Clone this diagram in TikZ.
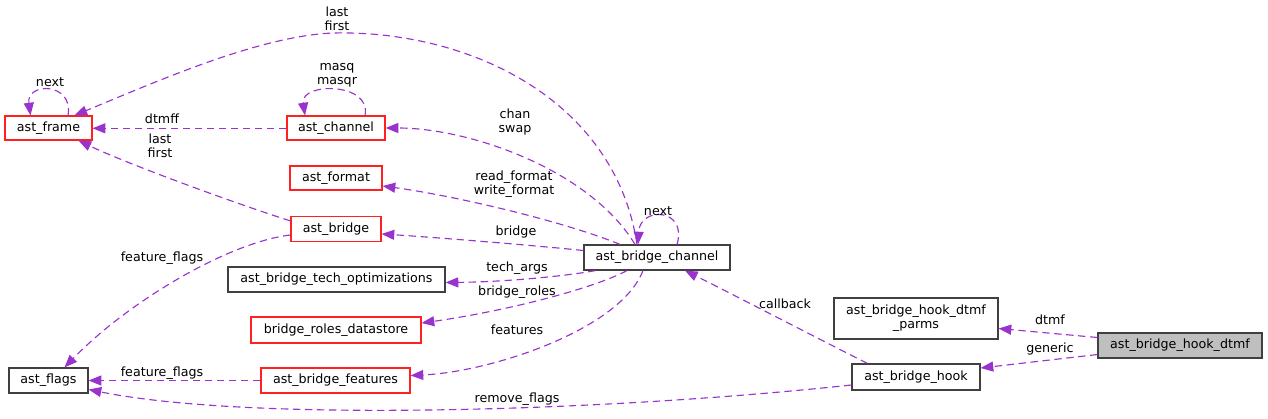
\documentclass[tikz,border=0pt]{standalone}
\usepackage{fontspec}
\setmainfont{DejaVu Sans}
\usetikzlibrary{arrows.meta,calc}
\definecolor{edgec}{HTML}{9A32CD}
\definecolor{redc}{HTML}{FF2020}
\definecolor{boxc}{HTML}{404040}
\definecolor{fillc}{HTML}{BFBFBF}
\begin{document}
\begin{tikzpicture}[x=0.75pt,y=-0.75pt,
  font=\fontsize{9.5}{10.5}\selectfont,
  sz/.style 2 args={minimum width=#1*0.75pt,minimum height=#2*0.75pt},
  cls/.style={draw=boxc,line width=0.9pt,inner sep=0pt,fill=white,align=center},
  rcls/.style={cls,draw=redc},
  gcls/.style={cls,fill=fillc},
  lbl/.style={inner sep=0pt,align=center},
  edge/.style={draw=edgec,line width=0.85pt,dash pattern=on 5.5pt off 3.5pt,
    -{Triangle[length=9.5pt,width=7.5pt]}}]
\useasboundingbox (0,0) rectangle (1268,418);
% nodes
\node[rcls,sz={87}{24}] (frame) at (48.5,128) {ast\_frame};
\node[rcls,sz={98}{24}] (channel) at (336,128) {ast\_channel};
\node[rcls,sz={92}{24}] (format) at (336,178) {ast\_format};
\node[rcls,sz={90}{25}] (bridge) at (336,229) {ast\_bridge};
\node[cls,sz={217}{25}] (techopt) at (336.5,279.5) {ast\_bridge\_tech\_optimizations};
\node[rcls,sz={170}{26}] (roles) at (336,330) {bridge\_roles\_datastore};
\node[rcls,sz={149}{25}] (features) at (335.5,380.5) {ast\_bridge\_features};
\node[cls,sz={79}{25}] (flags) at (48.5,380.5) {ast\_flags};
\node[cls,sz={146}{25}] (bc) at (657,257.5) {ast\_bridge\_channel};
\node[cls,sz={164}{41}] (parms) at (916,318.5) {ast\_bridge\_hook\_dtmf\\\_parms};
\node[cls,sz={128}{26}] (hook) at (916,377) {ast\_bridge\_hook};
\node[gcls,sz={164}{25}] (dtmf) at (1180,345.5) {ast\_bridge\_hook\_dtmf};
% edges
\draw[edge] ($(bc.north)+(-20,0)$) .. controls (615,100) and (470,30) .. (333,33)
  .. controls (260,36) and (160,80) .. ($(frame.north)+(26,0)$);
\draw[edge] ($(frame.north)+(19.5,0)$) .. controls (74,82) and (26,82) .. ($(frame.north)+(-18,0)$);
\draw[edge] ($(channel.west)+(0,0.3)$) -- ($(frame.east)+(0,0.3)$);
\draw[edge] ($(bridge.north west)+(0,5)$) .. controls (240,205) and (130,165) .. ($(frame.south)+(30,0)$);
\draw[edge] ($(channel.north)+(29,0)$) .. controls (372,82) and (300,82) .. ($(channel.north)+(-31,0)$);
\draw[edge] ($(bc.north)+(-22,0)$) .. controls (590,170) and (470,128) .. (channel.east);
\draw[edge] ($(bc.north)+(-37,0)$) .. controls (560,220) and (450,195) .. ($(format.east)+(0,8)$);
\draw[edge] ($(bc.west)+(0,-7)$) .. controls (530,245) and (430,237) .. ($(bridge.east)+(0,5)$);
\draw[edge] ($(bc.south west)+(12,0)$) .. controls (560,277) and (500,282) .. ($(techopt.east)+(0,3)$);
\draw[edge] ($(bc.south)+(-30,0)$) .. controls (590,290) and (500,312) .. ($(roles.east)+(0,-7)$);
\draw[edge] ($(bc.south)+(-14,0)$) .. controls (620,330) and (490,372) .. ($(features.east)+(0,-5)$);
\draw[edge] ($(bc.north)+(20,0)$) .. controls (688,208) and (640,206) .. ($(bc.north)+(-19,0)$);
\draw[edge] ($(hook.north west)+(16,0)$) .. controls (807,333) and (746,301) .. ($(bc.south)+(28,0)$);
\draw[edge] ($(hook.west)+(0,8)$) .. controls (600,412) and (250,422) .. ($(flags.east)+(0,9)$);
\draw[edge] (features.west) -- (flags.east);
\draw[edge] ($(bridge.west)+(0,6)$) .. controls (230,242) and (130,300) .. ($(flags.north)+(16,0)$);
\draw[edge] ($(dtmf.west)+(0,-8)$) -- ($(parms.east)+(0,10)$);
\draw[edge] ($(dtmf.west)+(0,9)$) -- ($(hook.east)+(0,-9)$);
% labels
\node[lbl] (l1) at (337,19) {last\\first};
\node[lbl] (l2) at (50,82) {next};
\node[lbl] (l3) at (162,119) {dtmff};
\node[lbl] (l4) at (160,146) {last\\first};
\node[lbl] (l5) at (337,75) {masq\\masqr};
\node[lbl] (l6) at (515,122) {chan\\swap};
\node[lbl] (l7) at (514,184) {read\_format\\write\_format};
\node[lbl] (l8) at (516,232) {bridge};
\node[lbl] (l9) at (517,268) {tech\_args};
\node[lbl] (l10) at (517,292) {bridge\_roles};
\node[lbl] (l11) at (517,330) {features};
\node[lbl] (l12) at (785,304) {callback};
\node[lbl] (l13) at (517,399) {remove\_flags};
\node[lbl] (l14) at (162,373) {feature\_flags};
\node[lbl] (l15) at (162,258) {feature\_flags};
\node[lbl] (l16) at (1050,320) {dtmf};
\node[lbl] (l17) at (1050,349) {generic};
\node[lbl] (l18) at (658,211) {next};
\end{tikzpicture}
\end{document}
